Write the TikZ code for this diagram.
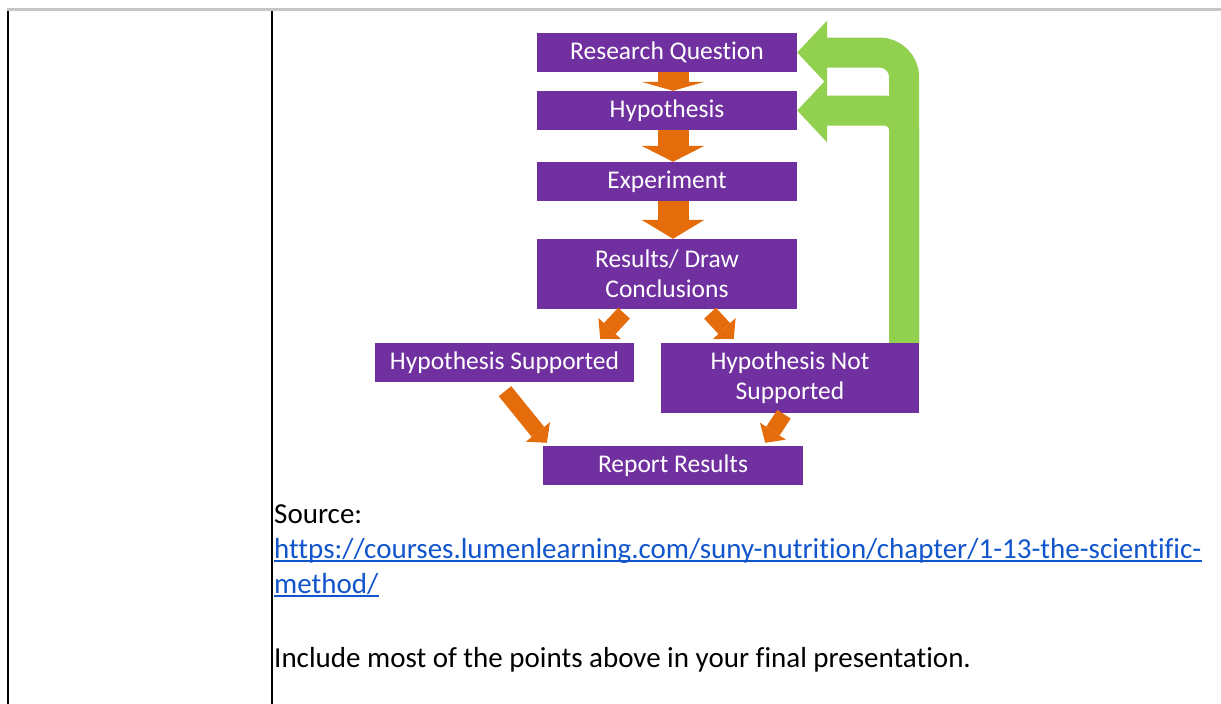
\documentclass[tikz,border=0pt]{standalone}
\usepackage{fontspec}
\setmainfont[Ligatures=NoCommon]{Carlito}
\usetikzlibrary{arrows.meta,calc}
\definecolor{boxpurple}{HTML}{7030A0}
\definecolor{arroworange}{HTML}{E46C0A}
\definecolor{loopgreen}{HTML}{92D050}
\definecolor{linkblue}{HTML}{1155CC}
\definecolor{rulegray}{HTML}{C6C6C6}
\tikzset{
  stepbox/.style={fill=boxpurple,text=white,inner sep=0pt,align=center,
    minimum width=260pt,minimum height=39pt,font=\fontsize{25.5}{30}\selectfont},
  downarrow/.style={arroworange,line width=31pt,
    -{Triangle[width=63pt,length=#1,line width=0pt]}},
  diagarrow/.style={arroworange,line width=16pt,
    -{Triangle[width=31pt,length=14pt,line width=0pt]}},
  loopback/.style={loopgreen,line width=30pt,rounded corners=#1,
    -{Triangle[width=64pt,length=30pt,line width=0pt]}},
  doctext/.style={anchor=base west,inner sep=0pt,font=\fontsize{29}{35}\selectfont}
}
\begin{document}
\begin{tikzpicture}[x=1pt,y=-1pt]
      \useasboundingbox (0,0) rectangle (1221,704);
      \draw[rulegray,line width=3pt] (7,9.5) -- (1221,9.5);
      \draw[line width=2.5pt] (8.2,11) -- (8.2,704);
      \draw[line width=2.5pt] (272,11) -- (272,704);
      \node[stepbox] (rq) at (667,52.5) {Research Question};
      \node[stepbox] (hyp) at (667,110.5) {Hypothesis};
      \node[stepbox] (exp) at (667,181.5) {Experiment};
      \node[stepbox,minimum height=70pt] (res) at (667,274) {Results/ Draw\\Conclusions};
      \node[stepbox,minimum width=259pt] (hs) at (504.5,362.5) {Hypothesis Supported};
      \node[stepbox,minimum width=258pt,minimum height=70pt] (hns) at (790,378) {Hypothesis Not\\Supported};
      \node[stepbox] (rep) at (673,465.5) {Report Results};
      \begin{scope}
        \draw[downarrow=9pt] ([xshift=6pt]rq.south) -- ([xshift=6pt]hyp.north);
        \draw[downarrow=16pt] ([xshift=6pt]hyp.south) -- ([xshift=6pt]exp.north);
        \draw[downarrow=19pt] ([xshift=6pt]exp.south) -- ([xshift=6pt]res.north);
        \draw[diagarrow] ($(res.south)+(-43,4)$) -- ($(hs.north east)+(-34,-4)$);
        \draw[diagarrow] ($(res.south)+(43,4)$) -- ($(hns.north west)+(73,-4)$);
        \draw[diagarrow] ($(hs.south)+(0.5,9)$) -- ($(rep.north west)+(4,-3)$);
        \draw[diagarrow] ($(hns.south)+(-6,1)$) -- ($(rep.north east)+(-38,-3)$);
        \draw[loopback=25pt] ($(hns.north east)+(-15,0)$) |- (rq.east);
        \draw[loopback=20pt] ($(hns.north east)+(-15,0)$) |- (hyp.east);
      \end{scope}
      \node[doctext] (src) at (274,523) {Source:};
      \node[doctext,text=linkblue] (url1) at (274,558) {https://courses.lumenlearning.com/suny-nutrition/chapter/1-13-the-scientific-};
      \node[doctext,text=linkblue] (url2) at (274,593) {method/};
      \draw[linkblue,line width=1.5pt] ($(url1.base west)+(0,3)$) -- ($(url1.base east)+(0,3)$);
      \draw[linkblue,line width=1.5pt] ($(url2.base west)+(0,3)$) -- ($(url2.base east)+(0,3)$);
      \node[doctext] (note) at (274,667) {Include most of the points above in your final presentation.};
    \end{tikzpicture}
\end{document}
